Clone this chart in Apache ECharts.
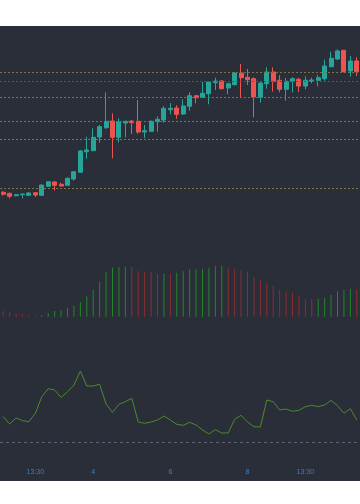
<!DOCTYPE html>
<html>
<head>
<meta charset="utf-8">
<script src="https://cdn.jsdelivr.net/npm/echarts@6/dist/echarts.min.js"></script>
<style>
  html, body { margin: 0; padding: 0; background: #ffffff; width: 360px; height: 504px; overflow: hidden; }
  #chart { position: absolute; left: 0; top: 26px; width: 360px; height: 455px; }
</style>
</head>
<body>
<div id="chart"></div>
<script>
// ---- data ----
const categories = [
  '01 17:30','01 21:30',
  '02 01:30','02 05:30','02 09:30','02 13:30','02 17:30','02 21:30',
  '03 01:30','03 05:30','03 09:30','03 13:30','03 17:30','03 21:30',
  '04 01:30','04 05:30','04 09:30','04 13:30','04 17:30','04 21:30',
  '05 01:30','05 05:30','05 09:30','05 13:30','05 17:30','05 21:30',
  '06 01:30','06 05:30','06 09:30','06 13:30','06 17:30','06 21:30',
  '07 01:30','07 05:30','07 09:30','07 13:30','07 17:30','07 21:30',
  '08 01:30','08 05:30','08 09:30','08 13:30','08 17:30','08 21:30',
  '09 01:30','09 05:30','09 09:30','09 13:30','09 17:30','09 21:30',
  '10 01:30','10 05:30','10 09:30','10 13:30','10 17:30','10 21:30'
];
const tickIndex  = [5, 14, 26, 38, 47];
const tickLabels = ['13:30', '4', '6', '8', '13:30'];

const openValues  = [37.7,36.7,34.3,35.3,34.7,37.3,34.7,43.7,48.0,45.7,44.7,51.0,57.7,78.3,79.3,93.0,102.3,109.0,92.7,107.0,109.0,108.7,98.0,98.7,108.3,110.0,120.3,122.0,116.0,123.7,134.3,132.7,136.3,147.3,149.0,142.0,145.3,157.0,152.7,151.3,132.7,146.3,158.0,149.7,140.7,148.7,150.7,144.0,148.7,149.7,151.3,163.3,171.0,179.7,159.0,169.0];
const closeValues = [35.7,33.7,35.3,36.0,37.0,35.0,45.0,48.3,44.7,44.0,51.7,58.3,79.0,80.0,92.7,103.3,108.7,92.7,108.0,108.7,107.3,98.0,99.3,108.7,110.7,121.7,121.7,115.7,124.0,134.3,132.3,136.7,148.0,149.0,141.3,146.3,157.0,152.3,150.3,133.0,147.0,158.0,148.7,140.7,148.7,151.3,144.0,149.7,150.0,152.3,164.0,171.7,179.0,158.3,169.0,158.3];
const lowValues   = [34.3,31.7,33.7,31.7,34.0,33.0,34.3,43.0,39.3,43.7,44.0,49.3,57.3,71.3,79.0,87.3,101.0,71.7,87.7,92.7,96.0,96.3,92.0,98.0,98.3,107.3,115.7,111.3,115.0,119.3,126.7,132.3,125.7,140.0,140.7,135.7,144.7,132.7,145.0,112.7,127.3,141.3,138.3,137.7,129.3,137.7,138.0,140.7,146.7,143.7,149.3,162.7,170.0,157.7,153.3,154.0];
const highValues  = [39.0,37.3,35.7,36.3,37.7,37.7,45.3,49.0,48.7,47.3,52.7,59.0,80.0,93.3,101.7,105.0,137.7,116.7,111.7,109.3,109.7,130.0,105.0,109.7,113.7,123.7,127.0,124.7,130.7,137.7,135.0,148.0,148.7,152.3,150.0,147.3,157.7,166.0,161.0,152.7,147.7,162.7,162.7,154.7,152.0,152.7,152.3,153.7,152.3,155.0,170.3,178.3,180.7,180.0,174.0,172.7];

const levelValues = [157.7, 148.7, 132.7, 108.7, 90.7, 41.7];

const histValues = [5.7,5.0,3.0,2.4,1.4,1.0,1.7,3.7,5.7,6.7,8.7,11.0,14.4,20.4,27.0,34.7,44.7,49.0,49.7,50.0,49.7,45.7,44.7,44.6,43.0,43.3,42.9,44.0,45.4,47.4,47.5,48.0,49.0,50.4,50.6,49.0,47.7,46.7,45.0,39.7,36.7,33.4,31.0,27.0,25.4,24.0,20.7,18.0,17.7,17.9,19.0,21.7,25.4,26.7,27.7,27.0];

const oscValues = [25.3,18.0,24.0,21.3,20.3,28.7,45.3,53.3,52.0,44.7,50.3,56.7,71.0,56.0,56.0,57.7,38.0,29.7,37.7,40.3,43.7,20.0,18.7,20.0,22.0,26.0,22.0,17.7,16.7,19.7,17.0,12.0,8.0,12.3,9.0,9.0,22.7,26.7,20.0,15.3,15.0,42.0,40.3,32.0,33.0,30.7,31.7,35.3,36.7,35.3,37.0,41.7,36.3,28.7,33.3,22.0];

// ---- chart ----
const candleData = openValues.map((o, i) => [o, closeValues[i], lowValues[i], highValues[i]]);
const levelColors = ['#7f7140', '#7a4744', '#7f7140', '#7f7140', '#7f7140', '#7f7140'];

const UP = '#26a69a', DOWN = '#ef5350';
const H_UP = '#23862a', H_DOWN = '#8f2d2d';

const chart = echarts.init(document.getElementById('chart'), null, { renderer: 'canvas' });

function hiddenCat(gi) {
  return {
    type: 'category', gridIndex: gi, data: categories, boundaryGap: true,
    axisLine: { show: false }, axisTick: { show: false },
    axisLabel: { show: false }, splitLine: { show: false }
  };
}

chart.setOption({
  backgroundColor: '#2a2e39',
  animation: false,
  textStyle: { fontFamily: 'Liberation Sans, Arial, sans-serif' },
  grid: [
    { left: 0, right: 0, top: 4, height: 180 },
    { left: 0, right: 0, top: 230.7, height: 60 },
    { left: 0, right: 0, top: 336, height: 80 }
  ],
  xAxis: [
    hiddenCat(0),
    hiddenCat(1),
    Object.assign(hiddenCat(2), {
      axisLabel: {
        show: true,
        margin: 27,
        fontSize: 7,
        color: '#3d7ccc',
        interval: (idx) => tickIndex.indexOf(idx) >= 0,
        formatter: (val, idx) => {
          const k = tickIndex.indexOf(idx);
          return k >= 0 ? tickLabels[k] : '';
        }
      }
    })
  ],
  yAxis: [
    { type: 'value', gridIndex: 0, min: 20, max: 200, show: false },
    { type: 'value', gridIndex: 1, min: 0, max: 60, show: false },
    { type: 'value', gridIndex: 2, min: 0, max: 80, show: false }
  ],
  series: [
    {
      type: 'candlestick',
      xAxisIndex: 0, yAxisIndex: 0,
      data: candleData,
      barWidth: '72%',
      itemStyle: { color: UP, color0: DOWN, borderColor: UP, borderColor0: DOWN, borderWidth: 1 },
      markLine: {
        silent: true,
        symbol: ['none', 'none'],
        label: { show: false },
        data: levelValues.map((v, i) => ({
          yAxis: v,
          lineStyle: { color: levelColors[i], type: [2, 2], width: 1 }
        }))
      }
    },
    {
      type: 'bar',
      xAxisIndex: 1, yAxisIndex: 1,
      barWidth: 1,
      data: histValues.map((v, i) => ({
        value: v,
        itemStyle: { color: (i > 0 && v >= histValues[i - 1]) ? H_UP : H_DOWN }
      }))
    },
    {
      type: 'line',
      xAxisIndex: 2, yAxisIndex: 2,
      data: oscValues,
      symbol: 'none',
      lineStyle: { color: '#4c8a2c', width: 1 },
      markLine: {
        silent: true,
        symbol: ['none', 'none'],
        label: { show: false },
        data: [{ yAxis: 0 }],
        lineStyle: { color: '#5c6170', type: [3, 3], width: 1 }
      }
    }
  ]
});
</script>
</body>
</html>
